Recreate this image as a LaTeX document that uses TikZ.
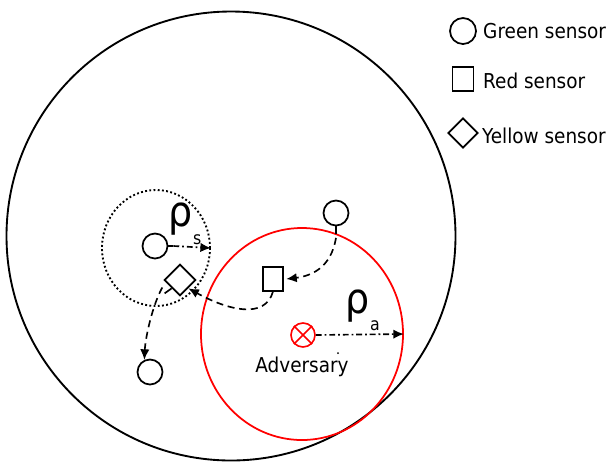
\documentclass[tikz,border=0pt]{standalone}
\usepackage{fontspec}
\setmainfont{DejaVu Sans Condensed}
\usetikzlibrary{shapes.geometric,arrows.meta,positioning}

\tikzset{
	gsensor/.style={draw,circle,line width=1.5pt,minimum size=0.75cm,inner sep=0pt},
	rsensor/.style={draw,rectangle,line width=1.5pt,minimum width=0.6cm,minimum height=0.7cm,inner sep=0pt},
	ysensor/.style={draw,diamond,line width=1.5pt,minimum size=0.95cm,inner sep=0pt},
	legtext/.style={anchor=base west,inner sep=0pt,font=\fontsize{17.5}{20}\selectfont},
	move/.style={line width=1.4pt,dash pattern=on 6pt off 4pt,-{Latex[length=9pt,width=8pt]}},
	rhoarrow/.style={line width=1.4pt,dash pattern=on 5pt off 2.5pt on 1.5pt off 2.5pt,-{Latex[length=9pt,width=8pt]}}
}

\begin{document}
\begin{tikzpicture}[x=0.03cm,y=-0.03cm]

	\useasboundingbox (0,0) rectangle (613,462);

	\draw[line width=1.6pt] (231,236) circle(224.5);

	\node[draw,ellipse,dotted,line width=1.6pt,minimum width=3.24cm,minimum height=3.48cm,inner sep=0pt] (rs) at (156,248) {};
	\node[draw=red,ellipse,line width=1.5pt,minimum width=6.06cm,minimum height=6.36cm,inner sep=0pt] (ra) at (302,334) {};

	\node[gsensor] (g1) at (336,213) {};
	\node[gsensor] (g2) at (155,246) {};
	\node[gsensor] (g3) at (150,372) {};
	\node[rsensor] (s1) at (273,279) {};
	\node[ysensor] (d1) at (180,280) {};

	\node[draw=red,circle,line width=1.4pt,minimum size=0.72cm,inner sep=0pt] (adv) at (303,335) {};
	\draw[red,line width=1.4pt] (adv.45) -- (adv.225) (adv.135) -- (adv.315);
	\node[inner sep=0pt,anchor=base,font=\fontsize{17.5}{20}\selectfont] (advtext) at (302,372) {Adversary};
	\fill (338,353) circle(1);

	\draw[line width=1.4pt] (g1.south) -- ++(0,8) coordinate (t1);
	\draw[line width=1.4pt] (g2.east) -- ++(5,0) coordinate (t2);
	\draw[line width=1.4pt] (d1.south west) -- ++(-7,5) coordinate (t3);

	\draw[move] ([yshift=-3]t1) .. controls +(-5,30) and +(25,-3) .. ([xshift=2]s1.east);
	\draw[move] (s1.south) .. controls +(-8,28) and +(40,22) .. (d1.south east);
	\draw[move] ([xshift=-2,yshift=5]t3) .. controls +(-10,18) and +(1,-22) .. (g3.115);

	\draw[rhoarrow] (t2) -- (rs.east);
	\draw[rhoarrow] (adv.east) -- (ra.east);

	\node[inner sep=0pt,anchor=base west,font=\fontsize{36}{36}\selectfont] (rhos) at (168,226) {ρ\hspace{0.02em}\raisebox{-0.45em}{\fontsize{15}{15}\selectfont s}};
	\node[inner sep=0pt,anchor=base west,font=\fontsize{36}{36}\selectfont] (rhoa) at (345,313) {ρ\hspace{0.02em}\raisebox{-0.42em}{\fontsize{15}{15}\selectfont a}};

	\node[gsensor,minimum size=0.78cm] (lg) at (463,31) {};
	\node[legtext] (lgtext) at (483,38) {Green sensor};
	\node[rsensor,minimum width=0.63cm,minimum height=0.72cm] (lr) at (463,79) {};
	\node[legtext] (lrtext) at (483,88) {Red sensor};
	\node[ysensor,minimum size=0.9cm] (ly) at (463,133) {};
	\node[legtext] (lytext) at (482,143) {Yellow sensor};

\end{tikzpicture}
\end{document}
